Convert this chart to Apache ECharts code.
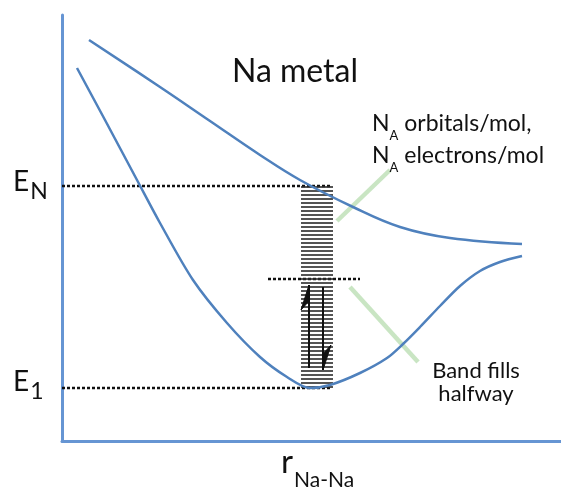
<!DOCTYPE html>
<html>
<head>
<meta charset="utf-8">
<script src="https://cdn.jsdelivr.net/npm/echarts@6/dist/echarts.min.js"></script>
<style>
html,body{margin:0;padding:0;background:#fff;}
#chart{width:561px;height:489px;}
</style>
</head>
<body>
<div id="chart"></div>
<script>
// ---- data (chart value space: r along x, energy along y) ----
const upperR = [27, 98, 148, 198, 238, 291, 338, 388, 460];
const upperE = [401, 354, 320, 286, 261, 234, 214, 203, 197];
const lowerR = [15, 43, 75, 98, 131, 165, 198, 225, 248, 268, 298, 325, 341, 358, 378, 398, 418, 438, 460];
const lowerE = [373, 321, 261, 218, 161, 118, 84, 64, 53, 56, 68, 83, 97, 114, 135, 155, 170, 179, 185];
const levelEN = 255;
const levelE1 = 53;
const levelHalf = 162;
const dottedEnd = 270;
const halfStart = 206;
const halfEnd = 298;
const bandR = [239, 271];
const bandLevels = [54, 58, 62, 66, 70, 74, 78, 82, 86, 90, 94, 98, 102, 106, 110, 114, 118, 122, 126, 130,
  134, 138, 142, 146, 150, 154, 158, 162, 166, 170, 174, 178, 182, 186, 190, 194, 198, 202, 206, 210,
  214, 218, 222, 226, 230, 234, 238, 242, 246, 250, 254];
const spinR = [247, 261];
const spinFrom = [73, 154];
const spinTo = [156, 71];
const callout1R = [275, 328], callout1E = [220, 271];
const callout2R = [288, 356], callout2E = [154, 79];

const pairs = (xs, ys) => xs.map((x, i) => [x, ys[i]]);

const chart = echarts.init(document.getElementById('chart'), null, {renderer: 'canvas'});
const axisColor = '#6695d3';
const curveColor = '#4F81BD';
const F = 'Lato, "Open Sans", sans-serif';

const dotted = (data) => ({
  type: 'line', data, symbol: 'none', silent: true,
  lineStyle: {color: '#111', width: 2.5, type: [3, 2]}, z: 3
});
const callout = (data) => ({
  type: 'line', data, symbol: 'none', silent: true,
  lineStyle: {color: '#c0e1b9', width: 4.5, opacity: 0.85}, z: 1
});

const option = {
  animation: false,
  backgroundColor: '#fff',
  grid: {left: 62, top: 15, right: 0, bottom: 48},
  xAxis: {
    type: 'value', min: 0, max: 499,
    axisLine: {show: true, onZero: false, lineStyle: {color: axisColor, width: 3}},
    axisTick: {show: false}, axisLabel: {show: false}, splitLine: {show: false}
  },
  yAxis: {
    type: 'value', min: 0, max: 426,
    axisLine: {show: true, onZero: false, lineStyle: {color: axisColor, width: 3}},
    axisTick: {show: false}, axisLabel: {show: false}, splitLine: {show: false}
  },
  series: [
    callout(pairs(callout1R, callout1E)),
    callout(pairs(callout2R, callout2E)),
    dotted([[0, levelEN], [dottedEnd, levelEN]]),
    dotted([[0, levelE1], [dottedEnd, levelE1]]),
    dotted([[halfStart, levelHalf], [halfEnd, levelHalf]]),
    {
      type: 'custom', silent: true, z: 4,
      data: bandLevels.map(e => [bandR[0], bandR[1], e]),
      renderItem: (params, api) => {
        const p0 = api.coord([api.value(0), api.value(2)]);
        const p1 = api.coord([api.value(1), api.value(2)]);
        return {type: 'line', shape: {x1: p0[0], y1: p0[1], x2: p1[0], y2: p1[1]},
          style: {stroke: '#2a2a2a', lineWidth: 1.6}};
      }
    },
    {
      type: 'line', data: pairs(upperR, upperE), smooth: 0.4, symbol: 'none', silent: true, z: 5,
      lineStyle: {color: curveColor, width: 2.5}
    },
    {
      type: 'line', data: pairs(lowerR, lowerE), smooth: 0.3, symbol: 'none', silent: true, z: 5,
      lineStyle: {color: curveColor, width: 2.5}
    },
    {
      type: 'custom', silent: true, z: 6,
      data: spinR.map((r, i) => [r, spinFrom[i], spinTo[i]]),
      renderItem: (params, api) => {
        const r = api.value(0), a = api.value(1), b = api.value(2);
        const dir = b > a ? 1 : -1;
        const s0 = api.coord([r, a]);
        const s1 = api.coord([r, b]);
        const tip = api.coord([r, b]);
        const outer = api.coord([r - dir * 8, b - dir * 25]);
        const join = api.coord([r, b - dir * 16]);
        return {
          type: 'group',
          children: [
            {type: 'line', shape: {x1: s0[0], y1: s0[1], x2: s1[0], y2: s1[1]},
              style: {stroke: '#111', lineWidth: 2}},
            {type: 'polygon', shape: {points: [tip, outer, join]},
              style: {fill: '#111', stroke: '#111', lineWidth: 1}}
          ]
        };
      }
    }
  ],
  graphic: [
    {type: 'text', x: 295, y: 72, z: 10,
      style: {text: 'Na metal', font: '32px ' + F, fill: '#111', align: 'center', verticalAlign: 'middle'}},
    {type: 'text', x: 13, y: 168, z: 10,
      style: {text: '{m|E}{s|N}', align: 'left', verticalAlign: 'top', fill: '#111',
        rich: {m: {font: '28px ' + F, verticalAlign: 'top', fill: '#111'},
               s: {font: '23px ' + F, verticalAlign: 'top', padding: [12, 0, 0, 1], fill: '#111'}}}},
    {type: 'text', x: 13, y: 368, z: 10,
      style: {text: '{m|E}{s|1}', align: 'left', verticalAlign: 'top', fill: '#111',
        rich: {m: {font: '28px ' + F, verticalAlign: 'top', fill: '#111'},
               s: {font: '23px ' + F, verticalAlign: 'top', padding: [12, 0, 0, 1], fill: '#111'}}}},
    {type: 'text', x: 281, y: 446, z: 10,
      style: {text: '{m|r}{s|Na-Na}', align: 'left', verticalAlign: 'top', fill: '#111',
        rich: {m: {font: '33px ' + F, verticalAlign: 'top', fill: '#111'},
               s: {font: '21px ' + F, verticalAlign: 'top', padding: [24, 0, 0, 1], fill: '#111'}}}},
    {type: 'text', x: 372, y: 112, z: 10,
      style: {text: '{m|N}{s|A}{m| orbitals/mol,}', align: 'left', verticalAlign: 'top', fill: '#111',
        rich: {m: {font: '23px ' + F, verticalAlign: 'top', fill: '#111'},
               s: {font: '13px ' + F, verticalAlign: 'top', padding: [17, 0, 0, 0], fill: '#111'}}}},
    {type: 'text', x: 372, y: 144, z: 10,
      style: {text: '{m|N}{s|A}{m| electrons/mol}', align: 'left', verticalAlign: 'top', fill: '#111',
        rich: {m: {font: '23px ' + F, verticalAlign: 'top', fill: '#111'},
               s: {font: '13px ' + F, verticalAlign: 'top', padding: [17, 0, 0, 0], fill: '#111'}}}},
    {type: 'text', x: 476, y: 382, z: 10,
      style: {text: 'Band fills\nhalfway', font: '22px ' + F, lineHeight: 23, fill: '#111',
        align: 'center', verticalAlign: 'middle'}}
  ]
};
chart.setOption(option);
</script>
</body>
</html>
